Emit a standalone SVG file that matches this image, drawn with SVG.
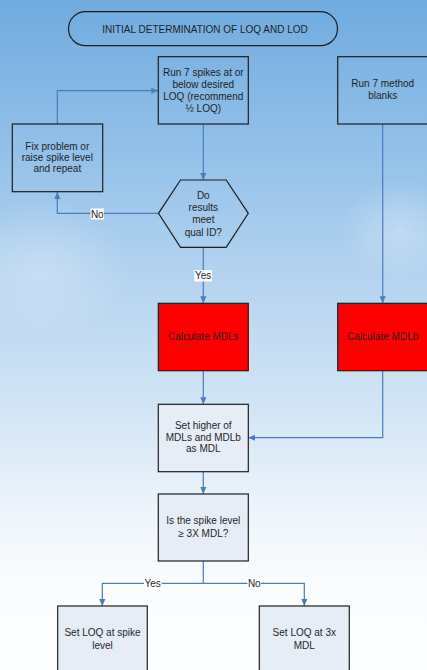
<svg xmlns="http://www.w3.org/2000/svg" width="427" height="670" viewBox="0 0 427 670">
  <defs>
    <linearGradient id="sky" x1="0" y1="0" x2="0" y2="1">
      <stop offset="0" stop-color="#70abdf"/>
      <stop offset="0.22" stop-color="#92c0e9"/>
      <stop offset="0.45" stop-color="#bad7f1"/>
      <stop offset="0.62" stop-color="#d4e6f6"/>
      <stop offset="0.76" stop-color="#edf4fb"/>
      <stop offset="0.87" stop-color="#fafcfe"/>
      <stop offset="1" stop-color="#fdfeff"/>
    </linearGradient>
    <radialGradient id="haze" cx="0.5" cy="0.5" r="0.5">
      <stop offset="0" stop-color="#ffffff" stop-opacity="0.28"/>
      <stop offset="1" stop-color="#ffffff" stop-opacity="0"/>
    </radialGradient>
    <marker id="arrow" viewBox="0 0 8 8" refX="8" refY="4" markerWidth="7" markerHeight="7" markerUnits="userSpaceOnUse" orient="auto">
      <path d="M0,0.5 L8,4 L0,7.5 Z" fill="#4a7cc2"/>
    </marker>
    <style>
      .box { fill: none; stroke: #1e1e1e; stroke-width: 1.2; }
      .pale { fill: #e7edf7; stroke: #1e1e1e; stroke-width: 1.2; }
      .red { fill: #ff0000; stroke: #1e1e1e; stroke-width: 1.2; }
      .lbl { font-family: "Liberation Sans", Arial, sans-serif; font-size: 10px; fill: #1f1f1f; text-anchor: middle; }
      .wire { fill: none; stroke: #4a7cc2; stroke-width: 1.2; marker-end: url(#arrow); }
      .plain { fill: none; stroke: #4a7cc2; stroke-width: 1.2; }
      .tag { fill: #ffffff; }
    </style>
  </defs>

  <!-- sky background -->
  <rect x="0" y="0" width="427" height="670" fill="url(#sky)"/>
  <ellipse cx="40" cy="270" rx="90" ry="70" fill="url(#haze)"/>
  <ellipse cx="400" cy="230" rx="60" ry="50" fill="url(#haze)"/>

  <!-- connectors -->
  <g id="connectors">
    <path class="wire" d="M203.3,124 L203.3,180"/>
    <path class="wire" d="M158.5,213.3 L57.3,213.3 L57.3,192"/>
    <path class="wire" d="M57.3,124 L57.3,90.7 L158.3,90.7"/>
    <path class="wire" d="M203.3,247.3 L203.3,303.3"/>
    <path class="wire" d="M382.7,124 L382.7,303.3"/>
    <path class="wire" d="M203.3,370.7 L203.3,404.3"/>
    <path class="wire" d="M382.7,370.7 L382.7,437.7 L248.3,437.7"/>
    <path class="wire" d="M203.3,471.7 L203.3,494"/>
    <path class="plain" d="M203.3,561 L203.3,583.3"/>
    <path class="wire" d="M203.3,583.3 L102.3,583.3 L102.3,606"/>
    <path class="wire" d="M203.3,583.3 L304.3,583.3 L304.3,606"/>
    <!-- branch labels -->
    <rect class="tag" x="90.5" y="208.5" width="13.5" height="11"/>
    <text class="lbl" x="97.3" y="217.5">No</text>
    <rect class="tag" x="194.3" y="270" width="17.8" height="11.5"/>
    <text class="lbl" x="203.2" y="279.3">Yes</text>
    <rect class="tag" x="144" y="578" width="17.5" height="10.5"/>
    <text class="lbl" x="152.7" y="587">Yes</text>
    <rect class="tag" x="247.5" y="578" width="13.5" height="10.5"/>
    <text class="lbl" x="254.3" y="587">No</text>
  </g>

  <g id="title">
    <rect x="68.5" y="11.7" width="269" height="34" rx="17" ry="17" class="box"/>
    <text class="lbl" x="205" y="32.5">INITIAL DETERMINATION OF LOQ AND LOD</text>
  </g>

  <g id="run-spikes">
    <rect x="158.3" y="56.7" width="90" height="67.3" class="box"/>
    <text class="lbl" x="203.3" y="75.5">Run 7 spikes at or</text>
    <text class="lbl" x="203.3" y="87.7">below desired</text>
    <text class="lbl" x="203.3" y="99.9">LOQ (recommend</text>
    <text class="lbl" x="203.3" y="112.1">½ LOQ)</text>
  </g>

  <g id="run-blanks">
    <rect x="337.7" y="56.7" width="90" height="67.3" class="box"/>
    <text class="lbl" x="382.7" y="87.2">Run 7 method</text>
    <text class="lbl" x="382.7" y="99.2">blanks</text>
  </g>

  <g id="fix-problem">
    <rect x="12.3" y="124" width="90.4" height="67.7" class="box"/>
    <text class="lbl" x="57.3" y="149.5">Fix problem or</text>
    <text class="lbl" x="57.3" y="161">raise spike level</text>
    <text class="lbl" x="57.3" y="172.2">and repeat</text>
  </g>

  <g id="qual-id">
    <polygon points="180.5,180 226.2,180 248.3,213.3 226.2,247.3 180.5,247.3 158.5,213.3" class="box"/>
    <text class="lbl" x="203.3" y="199.2">Do</text>
    <text class="lbl" x="203.3" y="211.2">results</text>
    <text class="lbl" x="203.3" y="223.2">meet</text>
    <text class="lbl" x="203.3" y="235.5">qual ID?</text>
  </g>

  <g id="calc-mdls">
    <rect x="158.3" y="303.3" width="90" height="67.4" class="red"/>
    <text class="lbl" x="203.3" y="339.5">Calculate MDLs</text>
  </g>

  <g id="calc-mdlb">
    <rect x="337.7" y="303.3" width="90" height="67.4" class="red"/>
    <text class="lbl" x="382.7" y="339.5">Calculate MDLb</text>
  </g>

  <g id="set-mdl">
    <rect x="158.3" y="404.3" width="90" height="67.4" class="pale"/>
    <text class="lbl" x="203.3" y="429.2">Set higher of</text>
    <text class="lbl" x="203.3" y="440.7">MDLs and MDLb</text>
    <text class="lbl" x="203.3" y="452">as MDL</text>
  </g>

  <g id="spike-check">
    <rect x="158.3" y="494" width="90" height="67" class="pale"/>
    <text class="lbl" x="203.3" y="524.2">Is the spike level</text>
    <text class="lbl" x="203.3" y="536.8">≥ 3X MDL?</text>
  </g>

  <g id="loq-spike">
    <rect x="57.7" y="606" width="89.6" height="70" class="pale"/>
    <text class="lbl" x="102.5" y="636.2">Set LOQ at spike</text>
    <text class="lbl" x="102.5" y="648.5">level</text>
  </g>

  <g id="loq-3x">
    <rect x="259.3" y="606" width="90" height="70" class="pale"/>
    <text class="lbl" x="304.3" y="636.2">Set LOQ at 3x</text>
    <text class="lbl" x="304.3" y="648.5">MDL</text>
  </g>
</svg>
